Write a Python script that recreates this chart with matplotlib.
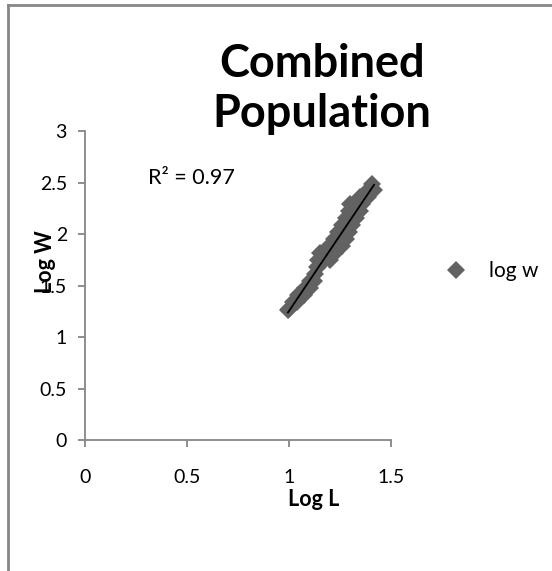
import numpy as np
import matplotlib
matplotlib.use('Agg')
import matplotlib.pyplot as plt
from matplotlib.lines import Line2D

plt.rcParams['font.family'] = ['Lato', 'DejaVu Sans']

# values (log length vs log weight)
log_l = [1.407, 1.387, 1.417, 1.348, 1.387, 1.299, 1.330, 1.358, 1.294, 1.348,
         1.279, 1.328, 1.260, 1.309, 1.240, 1.294, 1.221, 1.279, 1.196, 1.230,
         1.260, 1.152, 1.190, 1.225, 1.142, 1.170, 1.201, 1.137, 1.142, 1.127,
         1.103, 1.123, 1.078, 1.103, 1.044, 1.074, 1.020, 1.039, 1.000, 0.995]
log_w = [2.485, 2.427, 2.427, 2.359, 2.359, 2.291, 2.291, 2.291, 2.223, 2.223,
         2.155, 2.155, 2.087, 2.087, 2.019, 2.019, 1.951, 1.951, 1.883, 1.883,
         1.883, 1.816, 1.816, 1.816, 1.748, 1.748, 1.748, 1.680, 1.680, 1.612,
         1.544, 1.544, 1.476, 1.476, 1.408, 1.408, 1.340, 1.340, 1.272, 1.262]

x_ticks = [0, 0.5, 1, 1.5]
x_tick_labels = ['0', '0.5', '1', '1.5']
y_ticks = [0, 0.5, 1, 1.5, 2, 2.5, 3]
y_tick_labels = ['0', '0.5', '1', '1.5', '2', '2.5', '3']

title = 'Combined\nPopulation'
r2_text = 'R² = 0.97'
series_name = 'log w'

axis_grey = '#868686'
marker_grey = '#626262'

fig = plt.figure(figsize=(5.52, 5.71), dpi=100)
ax = fig.add_axes([85 / 552, 131 / 571, 306 / 552, 309 / 571])

ax.plot(log_l, log_w, linestyle='none', marker='D', markersize=9,
        color=marker_grey, markeredgewidth=0, label=series_name, zorder=2)

# linear trendline like the spreadsheet one
slope, intercept = np.polyfit(log_l, log_w, 1)
xs = np.array([min(log_l), max(log_l)])
ax.plot(xs, slope * xs + intercept, color='black', linewidth=1.3, zorder=3)

ax.set_xlim(0, 1.5)
ax.set_ylim(0, 3)
ax.set_xticks(x_ticks)
ax.set_xticklabels(x_tick_labels)
ax.set_yticks(y_ticks)
ax.set_yticklabels(y_tick_labels)

for side in ['top', 'right']:
    ax.spines[side].set_visible(False)
for side in ['left', 'bottom']:
    ax.spines[side].set_color(axis_grey)
    ax.spines[side].set_linewidth(1.3)
ax.tick_params(axis='both', colors=axis_grey, length=5, width=1.3,
               labelcolor='black', labelsize=14)
ax.tick_params(axis='x', pad=16)
ax.tick_params(axis='y', pad=8)

ax.text(0.309, 2.54, r2_text, fontsize=15.5, va='center', ha='left')

fig.text(322 / 552, 1 - 89 / 571, title, fontsize=32.5, fontweight='bold',
         ha='center', va='center', linespacing=1.25)
fig.text(314 / 552, 1 - 500 / 571, 'Log L', fontsize=15.5, fontweight='bold',
         ha='center', va='center')
fig.text(45 / 552, 1 - 262 / 571, 'Log W', fontsize=15.5, fontweight='bold',
         ha='center', va='center', rotation=90)

leg = fig.legend(loc='center left', bbox_to_anchor=(443 / 552, 1 - 271 / 571),
                 frameon=False, fontsize=15, handletextpad=1.0,
                 handlelength=1.2, markerscale=1.0, borderpad=0,
                 borderaxespad=0)

# chart border (only the top and left edges show in the crop)
fig.add_artist(Line2D([8 / 552, 8 / 552], [0, 1 - 5 / 571],
                      transform=fig.transFigure, color=axis_grey, linewidth=2))
fig.add_artist(Line2D([8 / 552, 1], [1 - 5 / 571, 1 - 5 / 571],
                      transform=fig.transFigure, color=axis_grey, linewidth=2))

fig.savefig('out.png', dpi=100)
